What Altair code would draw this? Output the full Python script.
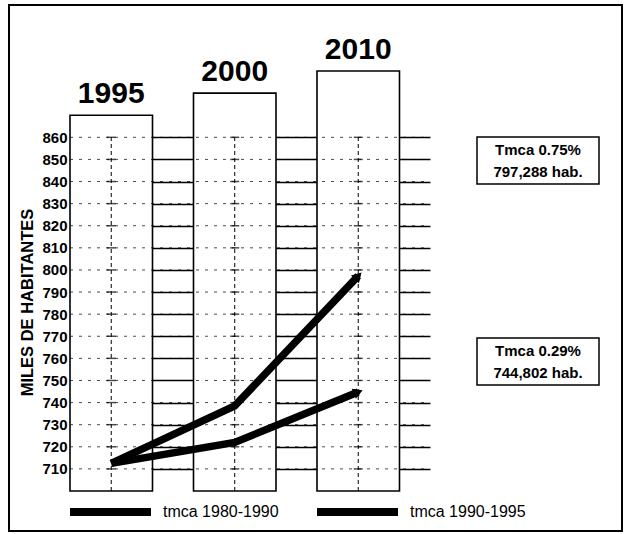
import math
import altair as alt
import pandas as pd

# ---- data -------------------------------------------------------------
years = ["1995", "2000", "2010"]
column_tops = [870, 880, 890]          # height of the open year columns
column_base = 700
tmca_1980_1990 = [712.5, 738.5, 797.288]   # miles de habitantes
tmca_1990_1995 = [712.5, 722.0, 744.802]
series_names = ["tmca 1980-1990", "tmca 1990-1995"]
tmca_rates = [0.75, 0.29]
y_ticks = list(range(710, 861, 10))

# ---- layout -----------------------------------------------------------
W, H = 360, 420
Y_DOMAIN = [700, 890]
P_INNER, P_OUTER = 0.332, 0.1235
FONT = "Liberation Sans"

x_scale = alt.Scale(domain=years, paddingInner=P_INNER, paddingOuter=P_OUTER, align=0)
y_scale = alt.Scale(domain=Y_DOMAIN, nice=False, zero=False)

y_axis = alt.Axis(
    values=y_ticks, grid=True, gridColor="black", gridWidth=1.4,
    ticks=False, domain=False, labelFont=FONT, labelFontSize=15,
    labelFontWeight="bold", labelColor="black", labelPadding=3,
    title="MILES DE HABITANTES", titleFont=FONT, titleFontSize=16.5,
    titleFontWeight="bold", titleColor="black", titleAngle=270,
    titleX=-43, titleY=231, titleAlign="center", titleBaseline="middle",
)


def X(field="year"):
    return alt.X(f"{field}:N", scale=x_scale, axis=None)


def Y(field):
    return alt.Y(f"{field}:Q", scale=y_scale, axis=y_axis)


cols = pd.DataFrame({"year": years, "top": column_tops, "base": column_base,
                     "hi": max(y_ticks)})

lines = pd.DataFrame({
    "year": years * 2,
    "value": tmca_1980_1990 + tmca_1990_1995,
    "serie": [series_names[0]] * 3 + [series_names[1]] * 3,
    "order": [0, 1, 2] * 2,
})

# arrow heads at the 2010 end of each projection
step = W / (len(years) - P_INNER + 2 * P_OUTER)
ppu = H / (Y_DOMAIN[1] - Y_DOMAIN[0])
heads = []
for name, vals in zip(series_names, [tmca_1980_1990, tmca_1990_1995]):
    ang = math.degrees(math.atan2((vals[-1] - vals[-2]) * ppu, step))
    heads.append({"year": years[-1], "value": vals[-1], "serie": name,
                  "angle": (360 - ang) % 360})
heads = pd.DataFrame(heads)

grid = pd.DataFrame({"v": y_ticks})
crosses = pd.DataFrame([{"year": y, "v": v} for y in years for v in y_ticks])

# ---- layers -----------------------------------------------------------
columns = alt.Chart(cols).mark_bar(fill="white", stroke="black", strokeWidth=1.6).encode(
    x=X(), y=Y("top"), y2="base")

inner_grid = alt.Chart(grid).mark_rule(color="black", strokeWidth=1, strokeDash=[3, 6],
                                       opacity=0.7).encode(
    y=Y("v"), x=alt.value(0), x2=alt.value(W))

centre_rules = alt.Chart(cols).mark_rule(color="black", strokeWidth=1,
                                         strokeDash=[4, 3]).encode(
    x=X(), y=Y("base"), y2="hi")

cross_ticks = alt.Chart(crosses).mark_tick(color="black", thickness=1.5, size=9).encode(
    x=X(), y=Y("v"))

year_labels = alt.Chart(cols).mark_text(
    font=FONT, fontSize=30, fontWeight="bold", baseline="bottom", dy=-6, color="black"
).encode(x=X(), y=Y("top"), text="year:N")

color = alt.Color("serie:N",
                  scale=alt.Scale(domain=series_names, range=["black", "black"]),
                  legend=None)

proj = alt.Chart(lines).mark_line(strokeWidth=7.5, strokeCap="butt").encode(
    x=X(), y=Y("value"), color=color, order="order:Q")

arrow = alt.Chart(heads).mark_point(shape="triangle-right", filled=True, size=120,
                                    opacity=1).encode(
    x=X(), y=Y("value"), color=color,
    angle=alt.Angle("angle:Q", scale=None))

# ---- legend (drawn below the plot) -------------------------------------
one = alt.Data(values=[{}])
legend_layers = []
for name, x0 in zip(series_names, [0, 247]):
    legend_layers.append(alt.Chart(one).mark_rule(color="black", strokeWidth=8).encode(
        x=alt.value(x0), x2=alt.value(x0 + 81), y=alt.value(441)))
    legend_layers.append(alt.Chart(one).mark_text(
        font=FONT, fontSize=16, color="black", align="left", baseline="middle").encode(
        x=alt.value(x0 + 93), y=alt.value(441), text=alt.value(name)))

# ---- annotation boxes -------------------------------------------------
boxes = []
for rate, vals, y0 in zip(tmca_rates, [tmca_1980_1990, tmca_1990_1995], [66, 267]):
    pop = f"{round(vals[-1] * 1000):,} hab."
    boxes.append(alt.Chart(one).mark_rect(fill="white", stroke="black", strokeWidth=1.5).encode(
        x=alt.value(407), x2=alt.value(529), y=alt.value(y0), y2=alt.value(y0 + 47)))
    boxes.append(alt.Chart(one).mark_text(font=FONT, fontSize=15, fontWeight="bold",
                                          color="black", lineHeight=22, baseline="middle").encode(
        x=alt.value(468), y=alt.value(y0 + 13),
        text=alt.value([f"Tmca {rate}%", pop])))

frame = alt.Chart(one).mark_rect(fill=None, stroke="black", strokeWidth=2).encode(
    x=alt.value(-61), x2=alt.value(552), y=alt.value(-66), y2=alt.value(460))

chart = alt.layer(
    columns, inner_grid, centre_rules, cross_ticks, year_labels, proj, arrow,
    *legend_layers, *boxes, frame,
).properties(
    width=W, height=H,
    autosize=alt.AutoSizeParams(type="none"),
    padding={"left": 70, "top": 71, "right": 197, "bottom": 43},
    background="white",
).configure_view(stroke=None)

chart.save("out.html", embed_options={"renderer": "svg", "actions": False})
